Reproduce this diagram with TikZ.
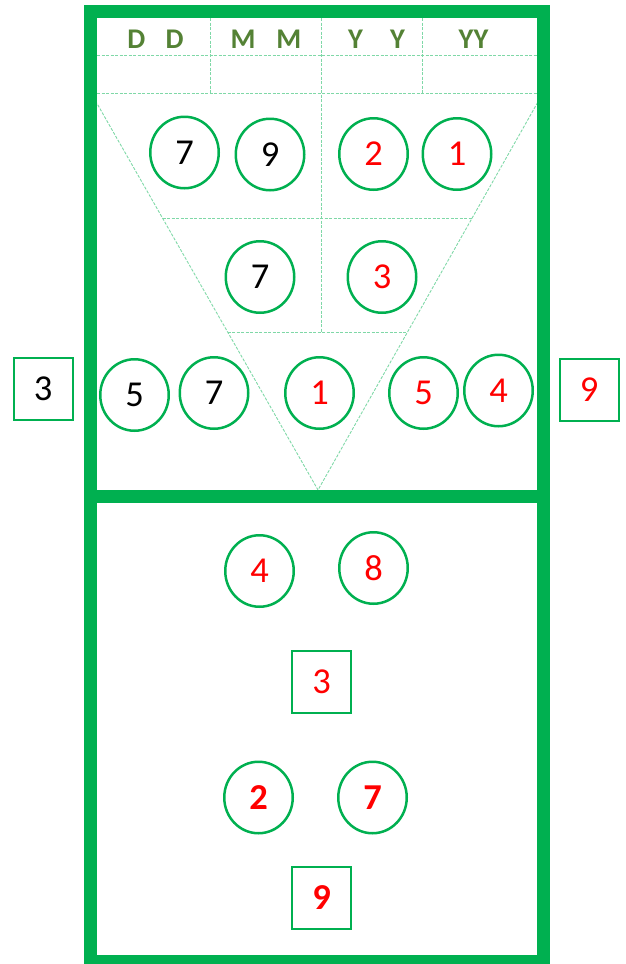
\documentclass[tikz,border=0pt]{standalone}
\usepackage{fontspec}
\setmainfont{Carlito}
\usetikzlibrary{positioning,calc,shapes.geometric}
\definecolor{CourtGreen}{HTML}{00B050}
\definecolor{LeafGreen}{HTML}{548235}
\definecolor{GuideGreen}{HTML}{7FD8A7}
\definecolor{HotRed}{HTML}{FF0000}

\begin{document}
\begin{tikzpicture}[x=1pt,y=-1pt,
          ball/.style={ellipse,draw=CourtGreen,line width=2.5pt,
                       minimum width=68.5pt,minimum height=71.5pt,
                       inner sep=0pt,font=\fontsize{36.5}{36.5}\selectfont},
          tag/.style={draw=CourtGreen,line width=2pt,minimum width=59pt,
                      minimum height=62pt,inner sep=0pt,
                      font=\fontsize{36.5}{36.5}\selectfont},
          hot/.style={text=HotRed},
          heavy/.style={font=\bfseries\fontsize{36.5}{36.5}\selectfont},
          head/.style={text=LeafGreen,inner sep=0pt,
                       font=\bfseries\fontsize{28.5}{28.5}\selectfont},
          guide/.style={GuideGreen,line width=0.9pt,dash pattern=on 3pt off 1.5pt},
          court/.style={CourtGreen,line width=13pt}]
        \useasboundingbox (0,0) rectangle (626,964);
        % guide lines
        \coordinate (L) at (91,93);
        \coordinate (R) at (543,93);
        \coordinate (V) at (318,490);
        \draw[guide] (97,55) -- (537,55);
        \draw[guide] (97,93) -- (537,93);
        \draw[guide] (210,18) -- (210,93);
        \draw[guide] (422,18) -- (422,93);
        \draw[guide] (321,18) -- (321,332);
        \draw[guide] (L) -- (V) -- (R);
        \draw[guide] ($(L)!0.315!(V)$) -- ($(R)!0.315!(V)$);
        \draw[guide] ($(L)!0.602!(V)$) -- ($(R)!0.602!(V)$);
        % court
        \draw[court] (90.5,11.5) rectangle (543.5,961.5);
        \draw[court] (90.5,496.5) -- (543.5,496.5);
        % date header
        \node[head] (dd) at (155.5,39) {D\hspace{20.5pt}D};
        \node[head] (mm) at (266,39) {M\hspace{21pt}M};
        \node[head] (yy) at (376.5,39) {Y\hspace{27pt}Y};
        \node[head] (yz) at (473.5,39) {YY};
        % upper half
        \node[ball] (a1) at (184.5,152.5) {7};
        \node[ball] (a2) at (270,154.5) {9};
        \node[ball,hot] (a3) at (373.5,154) {2};
        \node[ball,hot] (a4) at (457,154) {1};
        \node[ball] (b1) at (260,277) {7};
        \node[ball,hot] (b2) at (382,277) {3};
        \node[ball] (c1) at (134.5,395) {5};
        \node[ball] (c2) at (214,393) {7};
        \node[ball,hot] (c3) at (319.5,393) {1};
        \node[ball,hot] (c4) at (423.5,393) {5};
        \node[ball,hot] (c5) at (498.5,390.5) {4};
        \node[tag] (sl) at (43,389) {3};
        \node[tag,hot] (sr) at (589,389.5) {9};
        % lower half
        \node[ball,hot] (d1) at (259.5,571) {4};
        \node[ball,hot] (d2) at (373.5,568) {8};
        \node[tag,hot] (d3) at (321.5,682) {3};
        \node[ball,hot,heavy] (e1) at (258.5,797.5) {2};
        \node[ball,hot,heavy] (e2) at (372.5,797.5) {7};
        \node[tag,hot,heavy,below=152pt of d3] (e3) {9};
      \end{tikzpicture}
\end{document}
